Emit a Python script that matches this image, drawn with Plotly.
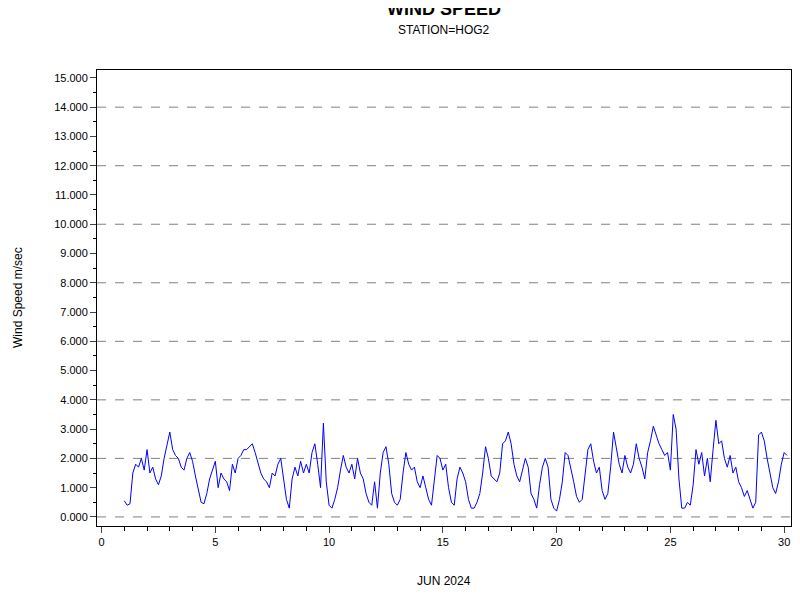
import plotly.graph_objects as go

# 3-hourly wind speed (m/sec), starting at day 1.0 of June 2024
speed = [
    0.55, 0.4, 0.45, 1.5, 1.8, 1.7, 2.0, 1.6,
    2.3, 1.5, 1.7, 1.3, 1.1, 1.4, 2.0, 2.4,
    2.9, 2.3, 2.1, 2.0, 1.7, 1.6, 2.0, 2.2,
    1.9, 1.4, 1.0, 0.5, 0.45, 0.8, 1.3, 1.6,
    1.9, 1.0, 1.5, 1.3, 1.2, 0.9, 1.8, 1.5,
    2.0, 2.1, 2.3, 2.3, 2.4, 2.5, 2.2, 1.8,
    1.5, 1.3, 1.2, 1.0, 1.5, 1.4, 1.8, 2.0,
    1.3, 0.6, 0.3, 1.3, 1.7, 1.4, 1.9, 1.5,
    1.8, 1.5, 2.2, 2.5, 1.8, 1.0, 3.2, 1.2,
    0.4, 0.3, 0.6, 1.0, 1.6, 2.1, 1.7, 1.5,
    1.8, 1.3, 2.0, 1.5, 1.3, 0.8, 0.5, 0.4,
    1.2, 0.3, 1.5, 2.2, 2.4, 1.8, 0.8, 0.5,
    0.4, 0.6, 1.5, 2.2, 1.8, 1.6, 1.7, 1.2,
    1.0, 1.4, 1.0, 0.6, 0.4, 1.2, 2.1, 2.0,
    1.6, 1.8, 1.0, 0.5, 0.4, 1.3, 1.7, 1.5,
    1.2, 0.6, 0.3, 0.3, 0.5, 0.8, 1.5, 2.4,
    2.0, 1.4, 1.3, 1.2, 1.5, 2.5, 2.6, 2.9,
    2.5, 1.8, 1.4, 1.2, 1.6, 2.0, 1.7, 0.8,
    0.6, 0.3, 1.1, 1.7, 2.0, 1.7, 0.6, 0.3,
    0.2, 0.6, 1.2, 2.2, 2.1, 1.7, 1.2, 0.7,
    0.5, 0.6, 1.4, 2.3, 2.5, 1.9, 1.5, 1.7,
    0.9, 0.6, 0.8, 1.7, 2.9, 2.4, 1.8, 1.5,
    2.1, 1.7, 1.5, 1.8, 2.5, 2.0, 1.7, 1.3,
    2.2, 2.6, 3.1, 2.8, 2.5, 2.3, 2.1, 2.2,
    1.6, 3.5, 3.0, 1.3, 0.3, 0.3, 0.5, 0.4,
    1.1, 2.3, 1.8, 2.2, 1.4, 2.0, 1.2, 2.3,
    3.3, 2.5, 2.6, 2.0, 1.7, 2.1, 1.5, 1.7,
    1.2, 1.0, 0.7, 0.9, 0.6, 0.3, 0.5, 2.8,
    2.9, 2.6, 2.0, 1.5, 1.0, 0.8, 1.2, 1.8,
    2.2, 2.1,
]
day = [1.0 + i / 8 for i in range(len(speed))]
y_ticks = list(range(0, 16))
y_labels = ["%.3f" % v for v in y_ticks]
grid_levels = list(range(0, 16, 2))

fig = go.Figure()
fig.add_scatter(x=day, y=speed, mode="lines", line=dict(color="#0000ff", width=1), showlegend=False)

for g in grid_levels:
    fig.add_hline(y=g, line=dict(color="#808080", width=1, dash="dash"), layer="below")

# page body adds 8px offset, so the figure is 792x592 with margins shifted by 8
fig.update_layout(
    width=792, height=592, plot_bgcolor="white", paper_bgcolor="white",
    margin=dict(l=89, r=9, t=62, b=74, autoexpand=False),
    font=dict(family="Arial, Liberation Sans", size=11, color="black"),
)
fig.add_annotation(text="<b>WIND SPEED</b>", xref="paper", yref="paper", x=0.5, y=1 + 61 / 456,
                   xanchor="center", yanchor="middle", showarrow=False, font=dict(size=18))
fig.add_annotation(text="STATION=HOG2", xref="paper", yref="paper", x=0.5, y=1 + 40 / 456,
                   xanchor="center", yanchor="middle", showarrow=False, font=dict(size=12))
fig.add_annotation(text="JUN 2024", xref="paper", yref="paper", x=0.5, y=-55 / 456,
                   xanchor="center", yanchor="middle", showarrow=False, font=dict(size=12))
fig.add_annotation(text="Wind Speed m/sec", xref="paper", yref="paper", x=-79 / 694, y=0.5,
                   textangle=-90, xanchor="center", yanchor="middle", showarrow=False,
                   font=dict(size=12))
fig.update_xaxes(range=[-0.2, 30.3], tickvals=[0, 5, 10, 15, 20, 25, 30], ticks="outside",
                 ticklen=6, showgrid=False, zeroline=False, showline=True, linecolor="black",
                 mirror=True, automargin=False,
                 minor=dict(dtick=1, tick0=0, ticks="outside", ticklen=4, tickcolor="black"))
fig.update_yaxes(range=[-0.31, 15.27], tickvals=y_ticks, ticktext=y_labels, ticks="outside",
                 ticklen=6, showgrid=False, zeroline=False, showline=True, linecolor="black",
                 mirror=True, automargin=False,
                 minor=dict(dtick=0.5, tick0=0, ticks="outside", ticklen=3, tickcolor="black"))

fig.write_html("out.html")
